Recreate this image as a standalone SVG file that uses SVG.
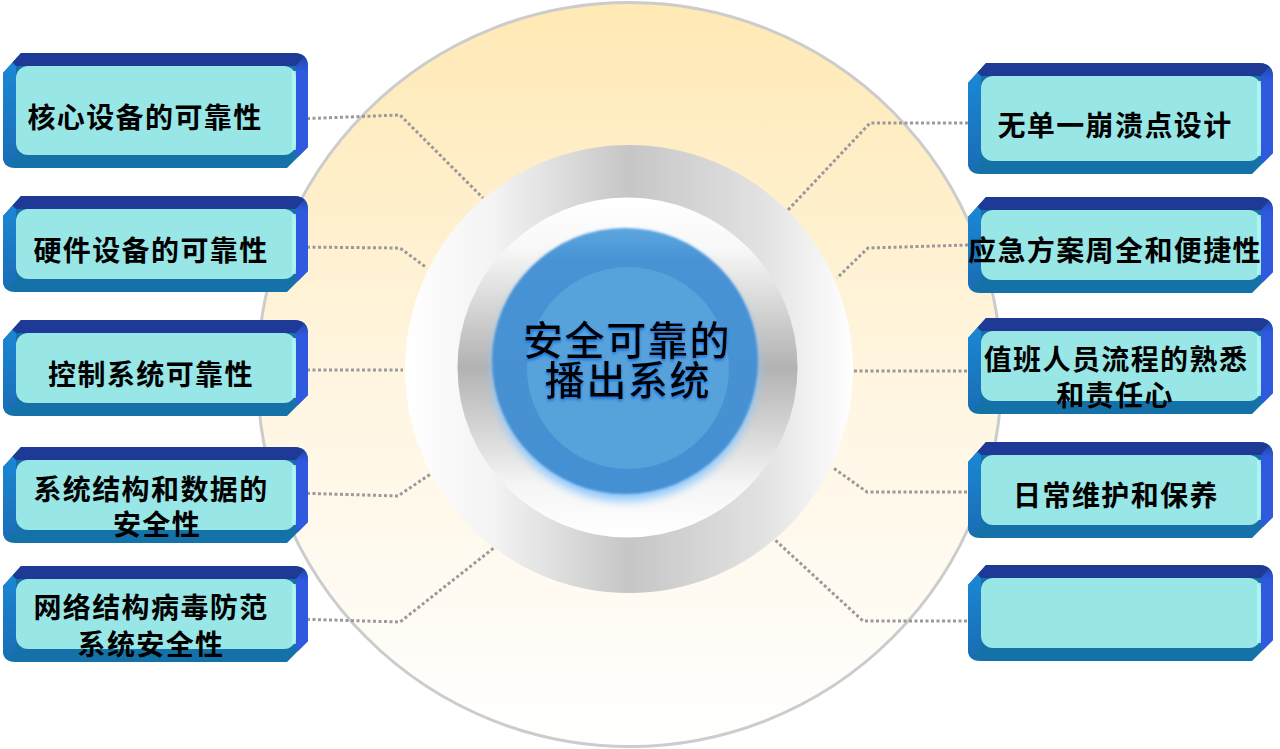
<svg xmlns="http://www.w3.org/2000/svg" xmlns:xlink="http://www.w3.org/1999/xlink" width="1280" height="749" viewBox="0 0 1280 749">
<style>
.lbl{font-family:"Noto Sans CJK SC","Noto Sans",sans-serif;font-weight:700;font-size:28px;letter-spacing:1.4px;fill:#000;text-anchor:middle}
.ctr{font-family:"Noto Sans CJK SC","Noto Sans",sans-serif;font-weight:500;font-size:40px;letter-spacing:1.6px;fill:#000;text-anchor:middle}
.con{fill:none;stroke:#9a9a9a;stroke-width:3;stroke-dasharray:3 2.5}
.base{fill:#1472a8}
.top{fill:#1f3a96}
.lft{fill:url(#gLeft)}
.rgt{fill:url(#gRight)}
.face{fill:#98e6e6}
.hl{fill:#b0f8f4;opacity:0.8}
</style>
<defs>
<linearGradient id="gBig" x1="0" y1="0" x2="0" y2="1">
<stop offset="0" stop-color="#ffe9b4"/>
<stop offset="0.5" stop-color="#fff5e0"/>
<stop offset="1" stop-color="#ffffff"/>
</linearGradient>
<linearGradient id="gRing1" x1="0" y1="0" x2="1" y2="0">
<stop offset="0" stop-color="#ffffff"/>
<stop offset="0.2" stop-color="#f3f3f3"/>
<stop offset="0.5" stop-color="#c6c6c6"/>
<stop offset="0.8" stop-color="#e2e2e2"/>
<stop offset="1" stop-color="#ffffff"/>
</linearGradient>
<linearGradient id="gRing2" x1="0" y1="0" x2="0" y2="1">
<stop offset="0" stop-color="#ffffff"/>
<stop offset="0.15" stop-color="#f8f8f8"/>
<stop offset="0.5" stop-color="#b2b2b2"/>
<stop offset="0.85" stop-color="#f6f6f6"/>
<stop offset="1" stop-color="#ffffff"/>
</linearGradient>
<linearGradient id="gDisk" x1="0" y1="0" x2="0" y2="1">
<stop offset="0" stop-color="#5ca7df"/>
<stop offset="0.12" stop-color="#4893d4"/>
<stop offset="1" stop-color="#4590d2"/>
</linearGradient>
<linearGradient id="gLeft" x1="0" y1="0" x2="0" y2="1">
<stop offset="0" stop-color="#1b8ad8"/>
<stop offset="1" stop-color="#1a6cb4"/>
</linearGradient>
<linearGradient id="gRight" x1="0" y1="0" x2="0" y2="1">
<stop offset="0" stop-color="#22409e"/>
<stop offset="0.16" stop-color="#2f5ae0"/>
<stop offset="1" stop-color="#2f5ae0"/>
</linearGradient>
<filter id="fBlur" x="-20%" y="-20%" width="140%" height="140%">
<feGaussianBlur stdDeviation="5"/>
</filter>
<filter id="fSoft" x="-5%" y="-5%" width="110%" height="110%">
<feGaussianBlur stdDeviation="1.2"/>
</filter>
<filter id="fGlow" x="-10%" y="-20%" width="120%" height="150%">
<feGaussianBlur in="SourceAlpha" stdDeviation="1.5" result="b"/>
<feOffset in="b" dx="0" dy="2" result="o"/>
<feFlood flood-color="#1a72d8" result="c"/>
<feComposite in="c" in2="o" operator="in" result="s"/>
<feMerge><feMergeNode in="s"/><feMergeNode in="SourceGraphic"/></feMerge>
</filter>
<clipPath id="c96"><path d="M18,0 H291 Q305,0 305,14 V75 L284,96 H12 Q0,96 0,84 V20 Z"/></clipPath>
<clipPath id="c115"><path d="M18,0 H291 Q305,0 305,14 V94 L284,115 H12 Q0,115 0,103 V20 Z"/></clipPath>
<clipPath id="c111"><path d="M18,0 H291 Q305,0 305,14 V90 L284,111 H12 Q0,111 0,99 V20 Z"/></clipPath>
<g id="box96">
<g clip-path="url(#c96)">
<rect class="base" x="0" y="0" width="305" height="96"/>
<polygon class="lft" points="0,0 13,13 13,83 0,96"/>
<polygon class="top" points="0,0 305,0 293,13 13,13"/>
<polygon class="rgt" points="305,0 305,96 293,83 293,13"/>
</g>
<rect class="face" x="13" y="13" width="280" height="70" rx="12"/>
<rect class="hl" x="289" y="18" width="4" height="60"/>
</g>
<g id="box115">
<g clip-path="url(#c115)">
<rect class="base" x="0" y="0" width="305" height="115"/>
<polygon class="lft" points="0,0 13,13 13,102 0,115"/>
<polygon class="top" points="0,0 305,0 293,13 13,13"/>
<polygon class="rgt" points="305,0 305,115 293,102 293,13"/>
</g>
<rect class="face" x="13" y="13" width="280" height="89" rx="12"/>
<rect class="hl" x="289" y="18" width="4" height="79"/>
</g>
<g id="box111">
<g clip-path="url(#c111)">
<rect class="base" x="0" y="0" width="305" height="111"/>
<polygon class="lft" points="0,0 13,13 13,98 0,111"/>
<polygon class="top" points="0,0 305,0 293,13 13,13"/>
<polygon class="rgt" points="305,0 305,111 293,98 293,13"/>
</g>
<rect class="face" x="13" y="13" width="280" height="85" rx="12"/>
<rect class="hl" x="289" y="18" width="4" height="75"/>
</g>
</defs>

<rect x="0" y="0" width="1280" height="749" fill="#ffffff"/>

<g id="background-circle">
<circle cx="629.5" cy="374.5" r="372" fill="url(#gBig)" stroke="#cccccc" stroke-width="3"/>
</g>

<g id="connectors">
<polyline class="con" points="296,119 400,115 483,198"/>
<polyline class="con" points="296,247 400,248 427,268"/>
<polyline class="con" points="296,370 403,370"/>
<polyline class="con" points="296,493 398,496 432,473"/>
<polyline class="con" points="296,619 400,622 495,547"/>
<polyline class="con" points="968,123 870,123 788,210"/>
<polyline class="con" points="968,245 868,248 837,278"/>
<polyline class="con" points="967,371 853,371"/>
<polyline class="con" points="967,492 867,492 832,467"/>
<polyline class="con" points="967,621 863,621 773,538"/>
</g>

<g id="center">
<circle cx="629" cy="369" r="224" fill="url(#gRing1)"/>
<circle cx="627.5" cy="367.5" r="170" fill="url(#gRing2)"/>
<circle cx="625" cy="368" r="133" fill="#8ec8fb" filter="url(#fBlur)"/>
<circle cx="625" cy="361" r="133" fill="url(#gDisk)" filter="url(#fSoft)"/>
<circle cx="628" cy="368" r="101" fill="#58a2db"/>
<g filter="url(#fGlow)">
<text class="ctr" x="627" y="355">安全可靠的</text>
<text class="ctr" x="628" y="395">播出系统</text>
</g>
</g>

<g id="node-l1">
<use xlink:href="#box115" x="3" y="53"/>
<text class="lbl" x="145" y="128">核心设备的可靠性</text>
</g>
<g id="node-l2">
<use xlink:href="#box96" x="3" y="196"/>
<text class="lbl" x="151" y="261">硬件设备的可靠性</text>
</g>
<g id="node-l3">
<use xlink:href="#box96" x="3" y="320"/>
<text class="lbl" x="151" y="385">控制系统可靠性</text>
</g>
<g id="node-l4">
<use xlink:href="#box96" x="3" y="447"/>
<text class="lbl" x="151" y="500">系统结构和数据的</text>
<text class="lbl" x="157" y="535">安全性</text>
</g>
<g id="node-l5">
<use xlink:href="#box96" x="3" y="566"/>
<text class="lbl" x="151" y="618">网络结构病毒防范</text>
<text class="lbl" x="151" y="655">系统安全性</text>
</g>

<g id="node-r1">
<use xlink:href="#box111" x="968" y="63"/>
<text class="lbl" x="1115" y="136">无单一崩溃点设计</text>
</g>
<g id="node-r2">
<use xlink:href="#box96" x="968" y="197"/>
<text class="lbl" x="1115" y="261">应急方案周全和便捷性</text>
</g>
<g id="node-r3">
<use xlink:href="#box96" x="968" y="318"/>
<text class="lbl" x="1116" y="370">值班人员流程的熟悉</text>
<text class="lbl" x="1115" y="406">和责任心</text>
</g>
<g id="node-r4">
<use xlink:href="#box96" x="968" y="442"/>
<text class="lbl" x="1116" y="506">日常维护和保养</text>
</g>
<g id="node-r5">
<use xlink:href="#box96" x="968" y="565"/>
</g>
</svg>
